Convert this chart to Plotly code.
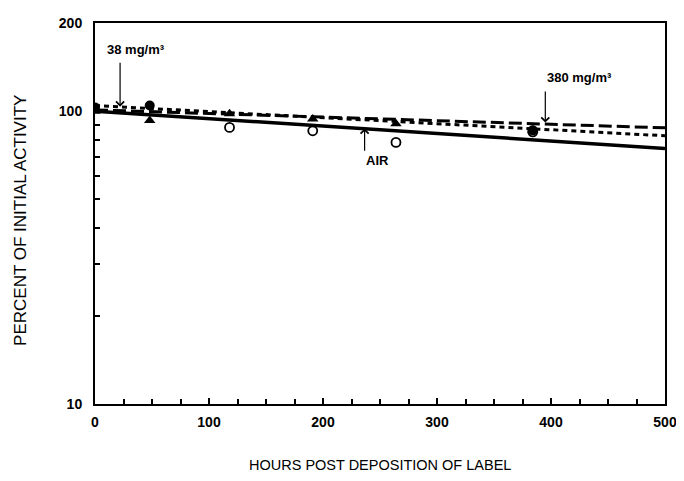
import math
import plotly.graph_objects as go

# --- data ---
hours_filled_circle = [0, 48, 384]
pct_filled_circle = [103, 104.5, 86]

hours_triangle = [0, 48, 118, 191, 264, 384]
pct_triangle = [100, 93, 98, 94, 90.5, 86]

hours_open_circle = [118, 191, 264, 384]
pct_open_circle = [88, 85.7, 78.2, 85]

fit_hours = [0, 500]
fit_air = [100, 74.6]
fit_38 = [104.5, 82.4]
fit_380 = [101, 87.7]

x_tick_vals = [0, 100, 200, 300, 400, 500]
x_minor_vals = [25, 50, 75, 125, 150, 175, 225, 250, 275, 325, 350, 375, 425, 450, 475]
y_tick_vals = [10, 100, 200]
y_tick_text = ["10", "100", "200"]
y_minor_vals = [20, 30, 40, 50, 60, 70, 80, 90]

FONT = "Liberation Sans, Arial, sans-serif"
L = math.log10  # annotations on a log axis are placed in log10 units

fig = go.Figure()

fig.add_trace(go.Scatter(x=fit_hours, y=fit_air, mode="lines",
                         line=dict(color="black", width=3.5), showlegend=False))
fig.add_trace(go.Scatter(x=fit_hours, y=fit_380, mode="lines",
                         line=dict(color="black", width=3, dash="13px,5px"), showlegend=False))
fig.add_trace(go.Scatter(x=fit_hours, y=fit_38, mode="lines",
                         line=dict(color="black", width=3, dash="5px,4px"), showlegend=False))

fig.add_trace(go.Scatter(x=hours_open_circle, y=pct_open_circle, mode="markers",
                         marker=dict(symbol="circle-open", size=9, color="black",
                                     line=dict(width=1.8, color="black")), showlegend=False))
fig.add_trace(go.Scatter(x=hours_triangle, y=pct_triangle, mode="markers",
                         marker=dict(symbol="triangle-up", size=10, color="black"), showlegend=False))
fig.add_trace(go.Scatter(x=hours_filled_circle, y=pct_filled_circle, mode="markers",
                         marker=dict(symbol="circle", size=10, color="black"), showlegend=False))

# arrows (tip x,y ; tail ax,ay)
arrows = [
    dict(x=22, y=103.5, ax=22, ay=148),
    dict(x=395, y=91.4, ax=395, ay=118),
    dict(x=236.5, y=87.3, ax=236.5, ay=72.4),
]
for a in arrows:
    fig.add_annotation(x=a["x"], y=L(a["y"]), ax=a["ax"], ay=L(a["ay"]),
                       xref="x", yref="y", axref="x", ayref="y",
                       text="", showarrow=True, arrowhead=4, arrowsize=1.3,
                       arrowwidth=1.2, arrowcolor="black")

labels = [
    dict(x=35.6, y=162, text="38 mg/m³"),
    dict(x=425, y=130.6, text="380 mg/m³"),
    dict(x=248, y=67.6, text="AIR"),
]
for l in labels:
    fig.add_annotation(x=l["x"], y=L(l["y"]), xref="x", yref="y", text=f"<b>{l['text']}</b>",
                       showarrow=False, xanchor="center", yanchor="middle",
                       font=dict(family=FONT, size=13, color="black"))

fig.add_annotation(x=0.5, y=-0.16, xref="paper", yref="paper",
                   text="HOURS POST DEPOSITION OF LABEL", showarrow=False,
                   xanchor="center", yanchor="middle",
                   font=dict(family=FONT, size=14.5, color="black"))
fig.add_annotation(x=-0.13, y=0.483, xref="paper", yref="paper",
                   text="PERCENT OF INITIAL ACTIVITY", showarrow=False, textangle=-90,
                   xanchor="center", yanchor="middle",
                   font=dict(family=FONT, size=17, color="black"))

# the page body adds an 8px offset, so margins are reduced by 8px
fig.update_layout(
    width=676, height=473,
    margin=dict(l=87, r=10, t=7, b=77),
    paper_bgcolor="white", plot_bgcolor="white",
    font=dict(family=FONT, color="black"),
    xaxis=dict(range=[0, 500], tickmode="array", tickvals=x_tick_vals,
               ticks="inside", ticklen=6, tickwidth=1.5, tickcolor="black",
               showline=True, linecolor="black", linewidth=2, mirror=True,
               showgrid=False, zeroline=False, ticklabelstandoff=4,
               ticklabeloverflow="allow",
               tickfont=dict(family=FONT, size=14, color="black", weight="bold"),
               minor=dict(tickmode="array", tickvals=x_minor_vals, ticks="inside",
                          ticklen=5, tickwidth=1.5, tickcolor="black", showgrid=False)),
    yaxis=dict(type="log", range=[1, 2.30103], tickmode="array",
               tickvals=y_tick_vals, ticktext=y_tick_text,
               ticks="inside", ticklen=5, tickwidth=1.5, tickcolor="black",
               showline=True, linecolor="black", linewidth=2, mirror=True,
               showgrid=False, zeroline=False, ticklabelstandoff=8,
               tickfont=dict(family=FONT, size=14, color="black", weight="bold"),
               minor=dict(tickmode="array", tickvals=y_minor_vals, ticks="inside",
                          ticklen=5, tickwidth=1.5, tickcolor="black", showgrid=False)),
)

fig.write_html("out.html")
